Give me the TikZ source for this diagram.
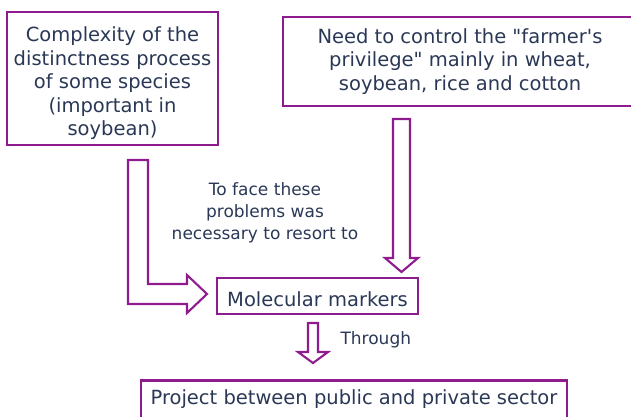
\documentclass[tikz,border=0pt]{standalone}
\usepackage{fontspec}
\newfontfamily\dejavu{DejaVu Sans}
\definecolor{boxpurple}{RGB}{142,28,142}
\definecolor{inkblue}{RGB}{42,56,86}

\begin{document}
\begin{tikzpicture}[x=1pt, y=-1pt,
  box/.style = {draw=boxpurple, line width=2.8pt, text=inkblue, align=center, inner sep=0pt,
                font=\dejavu\fontsize{19.5}{23.5}\selectfont},
  note/.style = {text=inkblue, align=center, font=\dejavu\fontsize{17}{22}\selectfont},
  hollow/.style = {draw=boxpurple, line width=2.1pt, line join=miter, fill=white}]
\useasboundingbox (0,0) rectangle (631,417);
\clip (0,0) rectangle (631,417);

% the two problems
\node[box, minimum width=211pt, minimum height=133pt] (complexity) at (112.5,78.5)
  {\rule{0pt}{25pt}Complexity of the\\ distinctness process\\ of some species\\ (important in\\ soybean)};
\node[box, minimum width=354pt, minimum height=89pt] (privilege) at (460,61.5)
  {Need to control the "farmer's\\ privilege" mainly in wheat,\\ soybean, rice and cotton};

% what they lead to
\node[box, minimum width=201pt, minimum height=36pt, text height=21.4pt] (markers) at (317.5,296) {Molecular markers};
\node[box, minimum width=426pt, text height=24pt, text depth=30pt, anchor=north] (project) at (354,379)
  {Project between public and private sector};

\node[note] (resort) at (265,212.5) {To face these\\ problems was\\ necessary to resort to};
\node[note, anchor=base west] (through) at (337,344) {Through};

% hollow arrows
\draw[hollow] (128,160) -- (148,160) -- (148,284) -- (187,284) -- (187,275) -- (207,294)
  -- (187,313) -- (187,304) -- (128,304) -- cycle;
\draw[hollow] (393,119) -- (410,119) -- (410,258) -- (418,258) -- (401.5,272)
  -- (385,258) -- (393,258) -- cycle;
\draw[hollow] (308,323) -- (318,323) -- (318,352) -- (328,352) -- (313,363)
  -- (298,352) -- (308,352) -- cycle;
\end{tikzpicture}
\end{document}
